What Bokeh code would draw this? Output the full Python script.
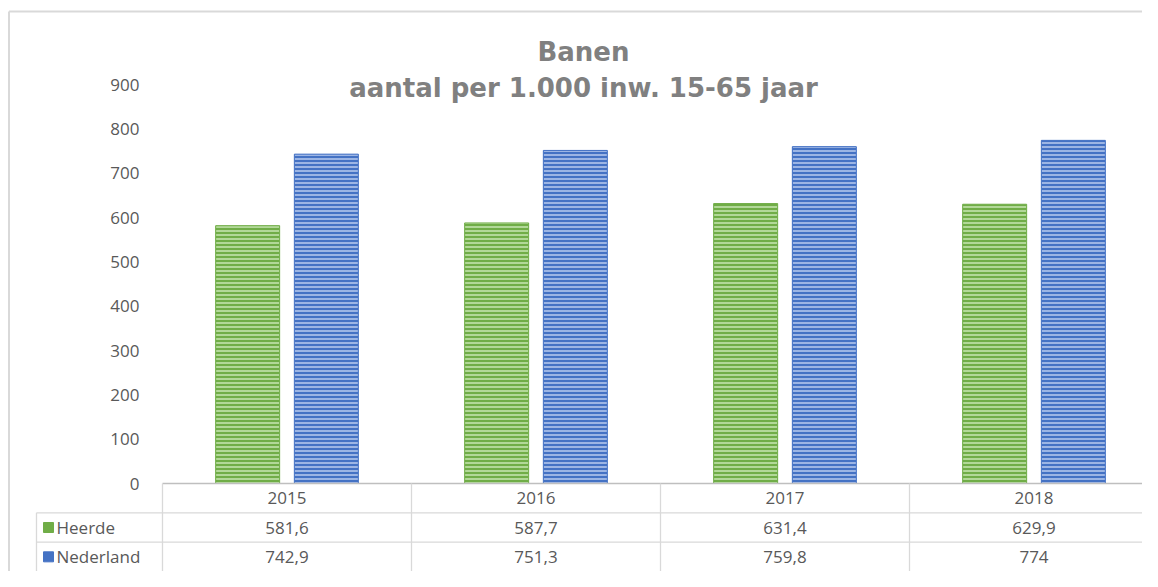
from bokeh.plotting import figure
from bokeh.models import Range1d, FixedTicker, Label, ColumnDataSource
from bokeh.transform import dodge
from bokeh.core.properties import value
from bokeh.embed import file_html
from bokeh.resources import INLINE

# ---------------- data ----------------
years = ["2015", "2016", "2017", "2018"]
series = ["Heerde", "Nederland"]
heerde = [581.6, 587.7, 631.4, 629.9]
nederland = [742.9, 751.3, 759.8, 774.0]
y_ticks = [0, 100, 200, 300, 400, 500, 600, 700, 800, 900]
title_text = "Banen"
subtitle_text = "aantal per 1.000 inw. 15-65 jaar"

# ---------------- styles ----------------
GREEN = "#70ad47"
GREEN_LIGHT = "#c3e3ad"
BLUE = "#4472c4"
BLUE_LIGHT = "#b3c6ec"
TXT = "#595959"
GRID = "#d9d9d9"
FONT = "Open Sans"

W, H = 1142, 571
CAT = 249.0          # px per category
X0 = 162.0           # px of first category edge
Y0 = 483.0           # px of value 0
K = (Y0 - 84.0) / 900.0   # px per value unit
ROW = 88.0 / 3.0     # px per table row


def nl(v):
    if float(v).is_integer():
        return str(int(v))
    return f"{v:.1f}".replace(".", ",")


def xd(px):
    return (px - X0) / CAT


n = len(years)
p = figure(width=W, height=H, x_range=Range1d(xd(0), xd(W)),
           y_range=Range1d(-(H - Y0) / K, Y0 / K),
           output_backend="svg", toolbar_location=None,
           min_border_left=0, min_border_right=0, min_border_top=0, min_border_bottom=0)
p.extra_y_ranges = {"table": Range1d(start=(H - Y0) / ROW, end=-Y0 / ROW)}
p.outline_line_color = None
p.grid.grid_line_color = None
p.xaxis.visible = False
p.yaxis.ticker = FixedTicker(ticks=y_ticks)
p.yaxis.axis_line_color = None
p.yaxis.major_tick_line_color = None
p.yaxis.minor_tick_line_color = None
p.yaxis.major_tick_out = 0
p.yaxis.major_tick_in = 0
p.yaxis.major_label_standoff = -139
p.yaxis.major_label_text_font = FONT
p.yaxis.major_label_text_font_size = "17px"
p.yaxis.major_label_text_color = TXT

src = ColumnDataSource(dict(xc=[i + 0.5 for i in range(n)], heerde=heerde, nederland=nederland))
p.vbar(x=dodge("xc", -0.158), top="heerde", width=0.257, source=src,
       fill_color=GREEN, line_color=GREEN, line_width=1,
       hatch_pattern="horizontal_line", hatch_color=GREEN_LIGHT, hatch_scale=4, hatch_weight=1.6)
p.vbar(x=dodge("xc", 0.158), top="nederland", width=0.257, source=src,
       fill_color=BLUE, line_color=BLUE, line_width=1,
       hatch_pattern="horizontal_line", hatch_color=BLUE_LIGHT, hatch_scale=4, hatch_weight=1.6)

# titles
p.add_layout(Label(x=xd(583), y=(Y0 - 51) / K, text=title_text, text_align="center", text_baseline="middle",
                   text_font="DejaVu Sans", text_font_style="bold", text_font_size="26px",
                   text_color="#808080"))
p.add_layout(Label(x=xd(583), y=(Y0 - 87) / K, text=subtitle_text, text_align="center", text_baseline="middle",
                   text_font="DejaVu Sans", text_font_style="bold", text_font_size="26px",
                   text_color="#808080"))

# outer chart border (left and top)
p.segment(x0=[xd(8.5), xd(8.5)], y0=[(Y0 - 11) / K, (Y0 - 11) / K],
          x1=[xd(8.5), xd(W + 20)], y1=[-(H - Y0) / K - 10, (Y0 - 11) / K],
          line_color=GRID, line_width=2)

# ---------------- data table ----------------
LEG = xd(36)
T = "table"
p.segment(x0=[0], y0=[0], x1=[n], y1=[0], line_color="#bfbfbf", line_width=1.3, y_range_name=T)
p.segment(x0=[LEG, LEG], y0=[1, 2], x1=[n, n], y1=[1, 2], line_color=GRID, line_width=1.3, y_range_name=T)
p.segment(x0=list(range(n)), y0=[0] * n, x1=list(range(n)), y1=[3.2] * n,
          line_color=GRID, line_width=1.3, y_range_name=T)
p.segment(x0=[LEG], y0=[1], x1=[LEG], y1=[3.2], line_color=GRID, line_width=1.3, y_range_name=T)

centers = [i + 0.5 for i in range(n)]
for row, labels in ((0.5, years), (1.5, [nl(v) for v in heerde]), (2.5, [nl(v) for v in nederland])):
    p.text(x=centers, y=[row] * n, text=labels, text_align="center", text_baseline="middle",
           text_font=value(FONT), text_font_size="17px", text_color=TXT, y_range_name=T)

p.scatter(x=[xd(48)] * 2, y=[1.5, 2.5], marker="square", size=10,
          fill_color=[GREEN, BLUE], line_color=[GREEN, BLUE], y_range_name=T)
p.text(x=[xd(56)] * 2, y=[1.5, 2.5], text=series, text_align="left", text_baseline="middle",
       text_font=value(FONT), text_font_size="17px", text_color=TXT, y_range_name=T)

open("out.html", "w").write(file_html(p, INLINE))
